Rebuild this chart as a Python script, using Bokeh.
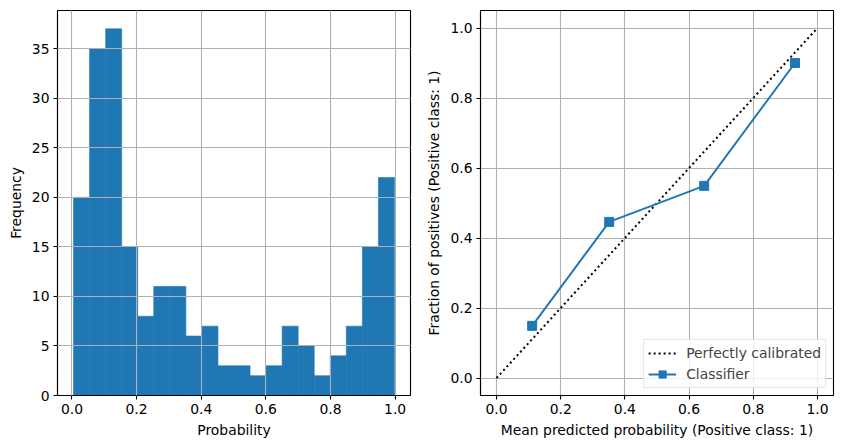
import numpy as np
from bokeh.plotting import figure
from bokeh.layouts import row
from bokeh.models import FixedTicker, NumeralTickFormatter, Range1d
from bokeh.embed import file_html
from bokeh.resources import INLINE

# ---- data ----
hist_counts = [20, 35, 37, 15, 8, 11, 11, 6, 7, 3, 3, 2, 3, 7, 5, 2, 4, 7, 15, 22]
hist_lo = 0.005
hist_hi = 0.998
prob_pred = [0.111, 0.351, 0.647, 0.930]
prob_true = [0.149, 0.446, 0.549, 0.900]
diag_x = [0.0, 1.0]
diag_y = [0.0, 1.0]
hist_yticks = [0, 5, 10, 15, 20, 25, 30, 35]
unit_ticks = [0.0, 0.2, 0.4, 0.6, 0.8, 1.0]

BLUE = "#1f77b4"
FONT = "DejaVu Sans"
FS = "13.9px"


def style(p):
    p.outline_line_color = "black"
    p.outline_line_width = 1.1
    p.outline_line_alpha = 1
    for ax in (p.xaxis, p.yaxis):
        ax.axis_line_color = "black"
        ax.axis_line_width = 1.1
        ax.major_tick_out = 4
        ax.major_tick_in = 0
        ax.major_tick_line_color = "black"
        ax.major_tick_line_width = 1.1
        ax.minor_tick_line_color = None
        ax.major_label_text_font = FONT
        ax.major_label_text_font_size = FS
        ax.major_label_text_color = "black"
        ax.axis_label_text_font = FONT
        ax.axis_label_text_font_size = FS
        ax.axis_label_text_font_style = "normal"
        ax.axis_label_text_color = "black"
        ax.major_label_standoff = 4
        ax.axis_label_standoff = 5
    for g in (p.xgrid, p.ygrid):
        g.grid_line_color = "#b0b0b0"
        g.grid_line_width = 1.1


# ---- left: histogram ----
edges = np.linspace(hist_lo, hist_hi, len(hist_counts) + 1)
p1 = figure(width=420, height=448, output_backend="svg", toolbar_location=None,
            x_range=Range1d(hist_lo - 0.05 * (hist_hi - hist_lo), hist_hi + 0.05 * (hist_hi - hist_lo)),
            y_range=Range1d(0, max(hist_counts) * 1.05),
            min_border_left=57, min_border_right=10, min_border_top=10, min_border_bottom=53)
p1.quad(left=edges[:-1], right=edges[1:], top=hist_counts, bottom=0,
        fill_color=BLUE, line_color=BLUE, line_width=0.6)
style(p1)
p1.xgrid.level = "overlay"
p1.ygrid.level = "overlay"
p1.xaxis.ticker = FixedTicker(ticks=unit_ticks)
p1.xaxis.formatter = NumeralTickFormatter(format="0.0")
p1.yaxis.ticker = FixedTicker(ticks=hist_yticks)
p1.xaxis.axis_label = "Probability"
p1.yaxis.axis_label = "Frequency"

# ---- right: calibration curve ----
p2 = figure(width=422, height=448, output_backend="svg", toolbar_location=None,
            x_range=Range1d(-0.05, 1.05), y_range=Range1d(-0.05, 1.05),
            min_border_left=60, min_border_right=9, min_border_top=10, min_border_bottom=53)
style(p2)
p2.line(diag_x, diag_y, line_color="black", line_width=2, line_dash="2 3",
        legend_label="Perfectly calibrated")
p2.line(prob_pred, prob_true, line_color=BLUE, line_width=2, legend_label="Classifier")
p2.scatter(prob_pred, prob_true, marker="square", size=9, fill_color=BLUE,
           line_color=BLUE, legend_label="Classifier")
p2.xaxis.ticker = FixedTicker(ticks=unit_ticks)
p2.yaxis.ticker = FixedTicker(ticks=unit_ticks)
p2.xaxis.formatter = NumeralTickFormatter(format="0.0")
p2.yaxis.formatter = NumeralTickFormatter(format="0.0")
p2.xaxis.axis_label = "Mean predicted probability (Positive class: 1)"
p2.yaxis.axis_label = "Fraction of positives (Positive class: 1)"

lg = p2.legend[0]
lg.location = "bottom_right"
lg.margin = 7
lg.padding = 4
lg.spacing = 3
lg.label_text_font = FONT
lg.label_text_font_size = FS
lg.glyph_width = 28
lg.glyph_height = 18
lg.label_height = 18
lg.border_line_color = "#cccccc"
lg.border_line_width = 1
lg.background_fill_alpha = 0.8
lg.label_standoff = 10

layout = row(p1, p2)
open("out.html", "w").write(file_html(layout, INLINE))
